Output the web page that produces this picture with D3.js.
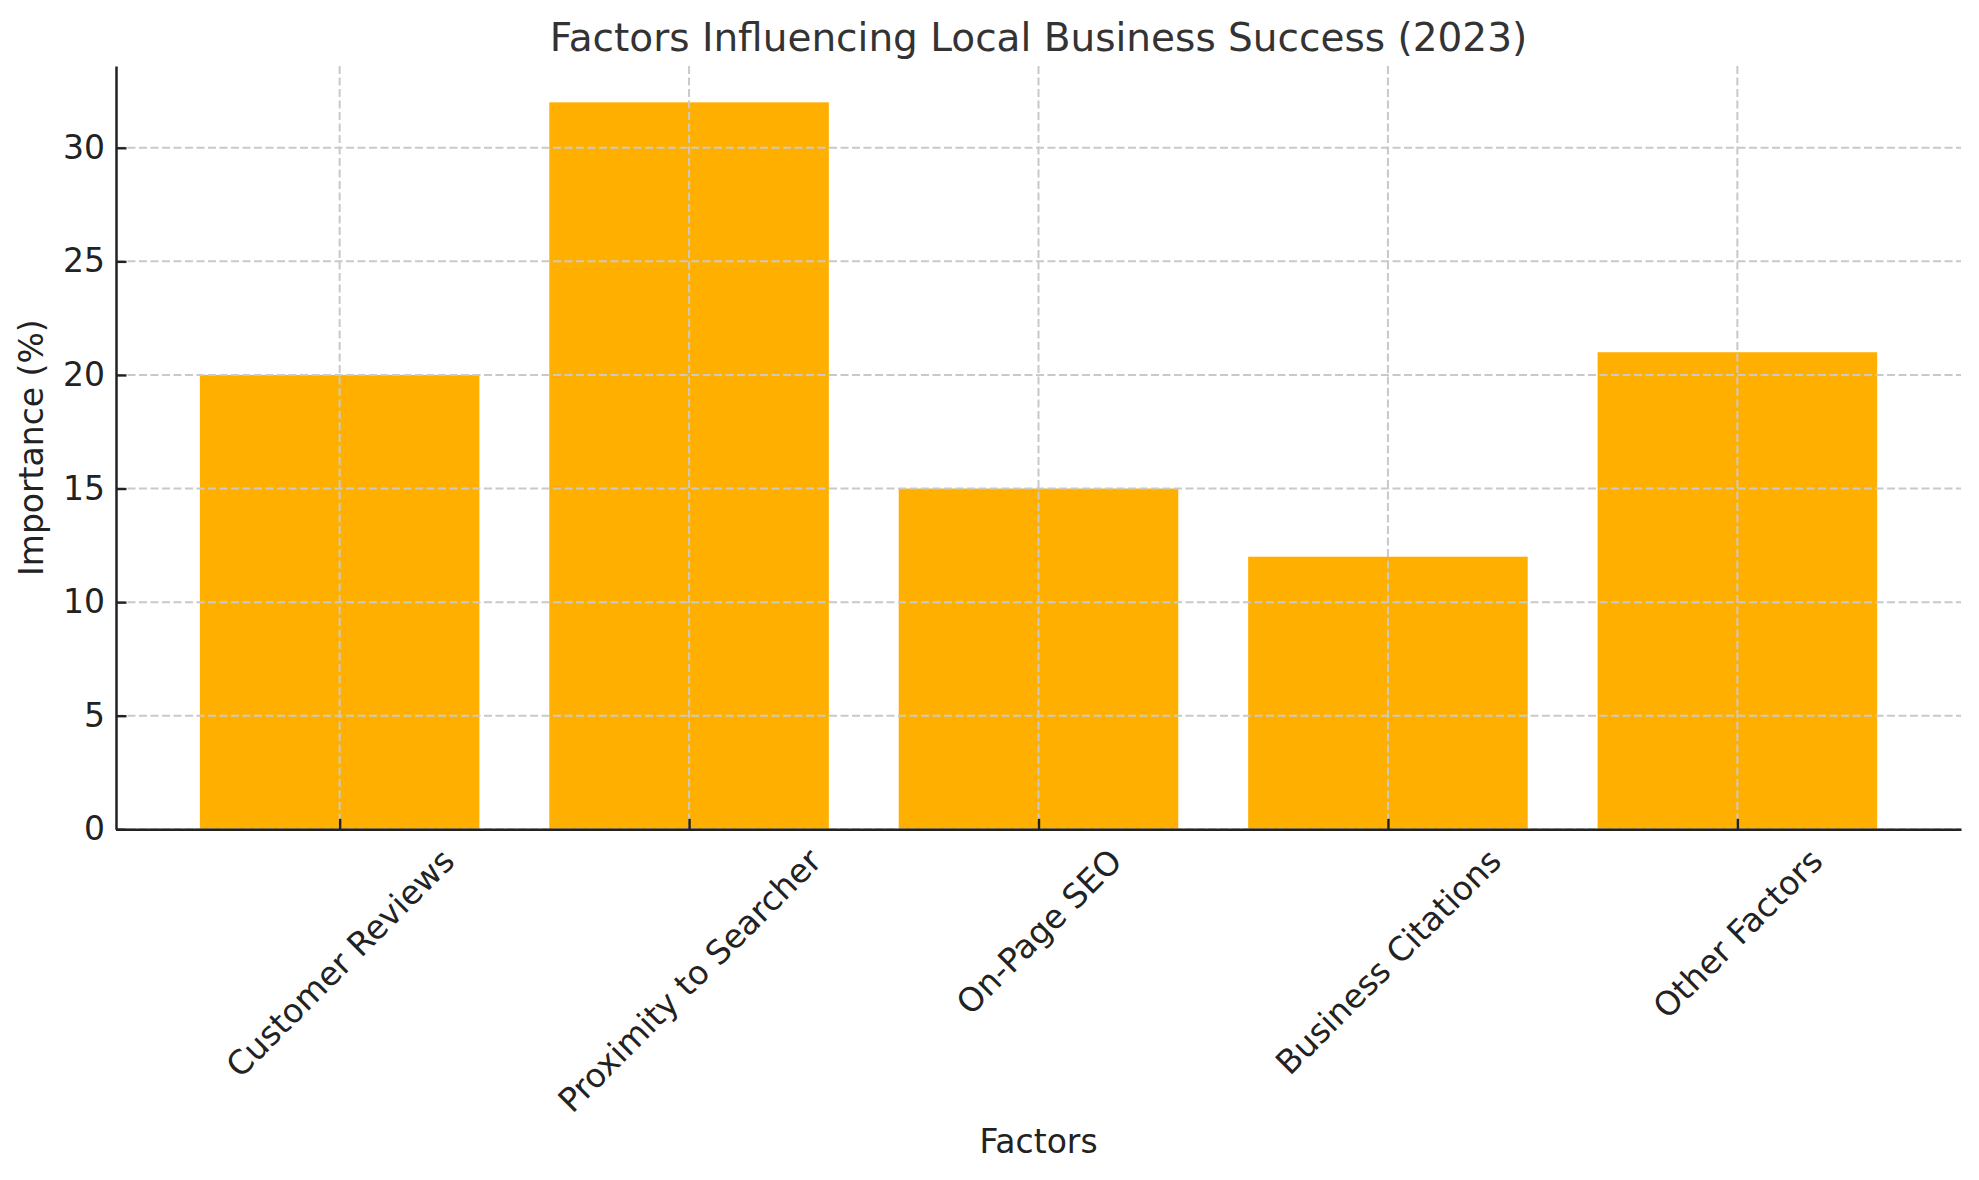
<!DOCTYPE html>
<html>
<head>
<meta charset="utf-8">
<script src="https://cdn.jsdelivr.net/npm/d3@7"></script>
<style>
  html, body { margin: 0; padding: 0; background: #fff; }
  svg { display: block; }
  text { font-family: "DejaVu Sans", sans-serif; }
</style>
</head>
<body>
<svg id="chart" width="1979" height="1180"></svg>
<script>
const categories = ["Customer Reviews", "Proximity to Searcher", "On-Page SEO", "Business Citations", "Other Factors"];
const importance = [20, 32, 15, 12, 21];
const yTicks = [0, 5, 10, 15, 20, 25, 30];
const titleText = "Factors Influencing Local Business Success (2023)";
const xLabelText = "Factors";
const yLabelText = "Importance (%)";

const W = 1979, H = 1180;
const m = { left: 116, right: 1961, top: 66, bottom: 829.3 };
const svg = d3.select("#chart");

// matplotlib-like categorical scale: positions 0..n-1, margins 5%
const n = categories.length;
const barW = 0.8;
const lo = -barW / 2, hi = n - 1 + barW / 2;
const pad = (hi - lo) * 0.05;
const x = d3.scaleLinear().domain([lo - pad, hi + pad]).range([m.left, m.right]);
const yMax = d3.max(importance) * 1.05;
const y = d3.scaleLinear().domain([0, yMax]).range([m.bottom, m.top]);

// bars
svg.append("g").selectAll("rect").data(importance).join("rect")
  .attr("x", (d, i) => x(i - barW / 2))
  .attr("width", (d, i) => x(i + barW / 2) - x(i - barW / 2))
  .attr("y", d => y(d))
  .attr("height", d => y(0) - y(d))
  .attr("fill", "#ffaf00");

// grid (drawn above bars)
const grid = svg.append("g").attr("stroke", "#c9c9c9").attr("stroke-width", 2).attr("stroke-dasharray", "8,3.5").attr("fill", "none");
grid.selectAll("line.h").data(yTicks).join("line").attr("class", "h")
  .attr("x1", m.left).attr("x2", m.right).attr("y1", d => y(d)).attr("y2", d => y(d));
grid.selectAll("line.v").data(categories).join("line").attr("class", "v")
  .attr("x1", (d, i) => x(i)).attr("x2", (d, i) => x(i)).attr("y1", m.top).attr("y2", m.bottom);

const fs = 33;

// y axis
const yAxis = d3.axisLeft(y).tickValues(yTicks).tickSizeInner(-10.5).tickSizeOuter(0).tickPadding(11);
const gy = svg.append("g").attr("transform", `translate(${m.left},0)`).call(yAxis);
gy.select(".domain").attr("stroke", "#222").attr("stroke-width", 2.5);
gy.selectAll(".tick line").attr("stroke", "#222").attr("stroke-width", 2.4);
gy.selectAll(".tick text").attr("font-size", fs).attr("fill", "#222").attr("font-family", "DejaVu Sans");

// x axis
const xAxis = d3.axisBottom(x).tickValues(d3.range(n)).tickFormat(i => categories[i]).tickSizeInner(-10.5).tickSizeOuter(0);
const gx = svg.append("g").attr("transform", `translate(0,${m.bottom})`).call(xAxis);
gx.select(".domain").attr("stroke", "#222").attr("stroke-width", 2.5);
gx.selectAll(".tick line").attr("stroke", "#222").attr("stroke-width", 2.4);
gx.selectAll(".tick text")
  .attr("font-size", fs).attr("fill", "#222").attr("font-family", "DejaVu Sans")
  .attr("dy", null).attr("y", 0)
  .attr("text-anchor", "middle").attr("dominant-baseline", "central")
  .each(function () {
    const L = this.getComputedTextLength();
    const hgt = fs * 1.164;
    const bb = (L + hgt) / Math.SQRT2;
    const cy = 12 + bb / 2;
    d3.select(this).attr("transform", `translate(0,${cy}) rotate(-45)`);
  });

// title
svg.append("text").attr("x", (m.left + m.right) / 2).attr("y", 51)
  .attr("text-anchor", "middle").attr("font-size", 39).attr("fill", "#333")
  .text(titleText);

// x label
svg.append("text").attr("x", (m.left + m.right) / 2).attr("y", 1153)
  .attr("text-anchor", "middle").attr("font-size", 33).attr("fill", "#222")
  .text(xLabelText);

// y label
svg.append("text").attr("transform", `translate(43,${(m.top + m.bottom) / 2}) rotate(-90)`)
  .attr("text-anchor", "middle").attr("font-size", 33).attr("fill", "#222")
  .text(yLabelText);
</script>
</body>
</html>
